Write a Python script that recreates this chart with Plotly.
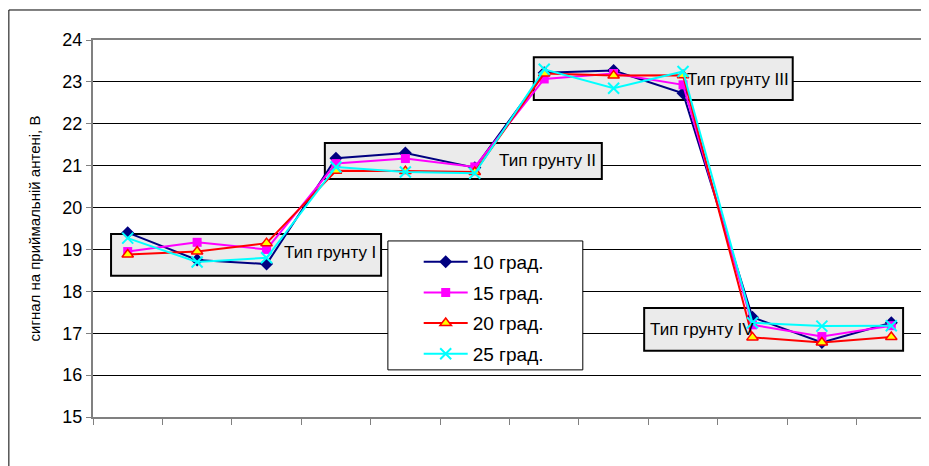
import plotly.graph_objects as go

points = list(range(1, 13))
series_names = ["10 град.", "15 град.", "20 град.", "25 град."]
s10 = [19.40, 18.75, 18.65, 21.18, 21.30, 20.95, 23.22, 23.27, 22.73, 17.38, 16.78, 17.25]
s15 = [18.95, 19.17, 19.00, 21.05, 21.17, 20.97, 23.07, 23.20, 22.93, 17.20, 16.92, 17.18]
s20 = [18.88, 18.95, 19.15, 20.88, 20.87, 20.85, 23.20, 23.15, 23.16, 16.90, 16.78, 16.91]
s25 = [19.27, 18.70, 18.80, 20.97, 20.85, 20.82, 23.30, 22.85, 23.25, 17.25, 17.17, 17.18]
y_ticks = [15, 16, 17, 18, 19, 20, 21, 22, 23, 24]
zone_labels = ["Тип грунту I", "Тип грунту II", "Тип грунту III", "Тип грунту IV"]

FONT = "Liberation Sans, Arial"
fig = go.Figure()
styles = [
    dict(line=dict(color="#000080", width=2), marker=dict(symbol="diamond", size=10, color="#000080")),
    dict(line=dict(color="#FF00FF", width=2), marker=dict(symbol="square", size=9, color="#FF00FF")),
    dict(line=dict(color="#FF0000", width=2), marker=dict(symbol="triangle-up", size=10, color="#FFFF00",
                                                           line=dict(color="#FF0000", width=1.5))),
    dict(line=dict(color="#00FFFF", width=2), marker=dict(symbol="x-thin-open", size=11,
                                                           line=dict(color="#00FFFF", width=2))),
]
for name, vals, st in zip(series_names, [s10, s15, s20, s25], styles):
    fig.add_trace(go.Scatter(x=points, y=vals, name=name, mode="lines+markers", legendgroup=name, **st))

# zone boxes (data coordinates)
boxes = [(0.76, 4.65, 18.37, 19.37), (3.84, 7.83, 20.68, 21.54),
         (6.85, 10.58, 22.57, 23.59), (8.44, 12.17, 16.58, 17.60)]
for (x0, x1, y0, y1) in boxes:
    fig.add_shape(type="rect", xref="x", yref="y", x0=x0, x1=x1, y0=y0, y1=y1,
                  fillcolor="#ebebeb", line=dict(color="#000000", width=2), layer="between")

label_pos = [(4.6, 18.92, "right"), (7.78, 21.12, "right"), (10.55, 23.06, "right"), (8.5, 17.1, "left")]
for (lx, ly, anc), txt in zip(label_pos, zone_labels):
    fig.add_annotation(x=lx, y=ly, xref="x", yref="y", text=txt, showarrow=False,
                       xanchor=anc, yanchor="middle",
                       font=dict(family=FONT, size=17, color="#000"))

# outer chart frame
fig.add_shape(type="rect", xref="paper", yref="paper", x0=-0.101, x1=1.05, y0=-0.3, y1=1.0796,
              line=dict(color="#000000", width=1), fillcolor="rgba(0,0,0,0)", layer="above")
# legend frame
fig.add_shape(type="rect", xref="paper", yref="paper", x0=0.354, x1=0.588, y0=0.125, y1=0.467,
              line=dict(color="#000000", width=1), fillcolor="white", layer="above")

fig.update_layout(
    width=921, height=458,
    margin=dict(l=85, r=3, t=32, b=49),
    paper_bgcolor="white", plot_bgcolor="white",
    font=dict(family=FONT, color="#000"),
    xaxis=dict(range=[0.5, 12.5], tickmode="array", tickvals=[i + 0.5 for i in range(0, 13)],
               showticklabels=False, ticks="outside", ticklen=6, tickcolor="#808080",
               showgrid=False, showline=True, linecolor="#808080", linewidth=2, zeroline=False,
               mirror=True, automargin=False),
    yaxis=dict(range=[15, 24], tickvals=y_ticks, ticks="outside", ticklen=5, tickcolor="#808080",
               showgrid=True, gridcolor="#000000", gridwidth=1, showline=True, linecolor="#808080",
               linewidth=2, zeroline=False, tickfont=dict(size=18), automargin=False, mirror=True,
               title=dict(text="сигнал на приймальній антені, В", font=dict(size=15), standoff=18)),
    legend=dict(x=0.391, y=0.462, xanchor="left", yanchor="top", bgcolor="rgba(0,0,0,0)",
                borderwidth=0, font=dict(size=19), tracegroupgap=3,
                itemwidth=44),
    showlegend=True,
)

fig.write_html("out.html")
